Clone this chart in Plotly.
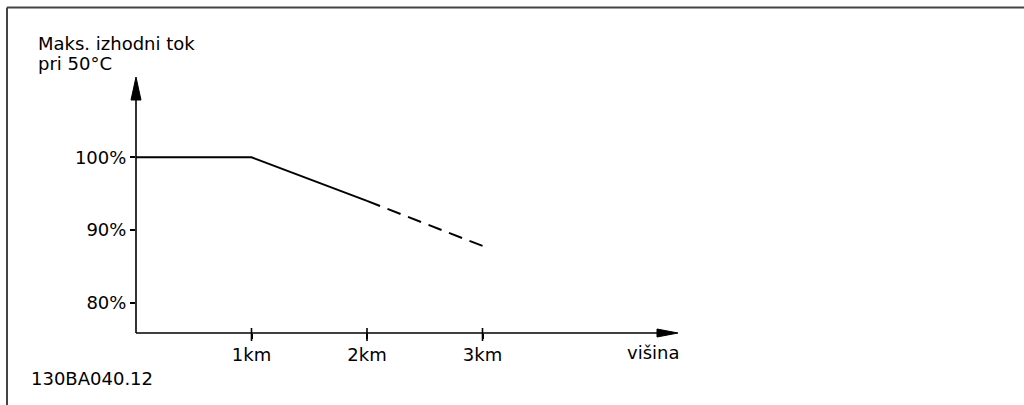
import plotly.graph_objects as go

W, H = 1024, 405

# curve data (altitude in km, max output current in %)
alt_solid = [0, 1, 2]
cur_solid = [100, 100, 94]
alt_dash = [2, 3.05]
cur_dash = [94, 87.5]

y_ticks = [80, 90, 100]
y_labels = ["80%", "90%", "100%"]
x_ticks = [1, 2, 3]
x_labels = ["1km", "2km", "3km"]

# drawing geometry (pixels)
X0, Y0 = 136, 333
PX_KM = 115.5
PX_PCT = 7.27
Y100 = 157.3
FONT = dict(family="DejaVu Sans", size=18, color="black")


def px(x):
    return x / W


def py(y):
    return 1 - y / H


fig = go.Figure()
fig.add_trace(go.Scatter(x=alt_solid, y=cur_solid, mode="lines",
                         line=dict(color="black", width=2), hoverinfo="skip"))
fig.add_trace(go.Scatter(x=alt_dash, y=cur_dash, mode="lines",
                         line=dict(color="black", width=2, dash="14px,8px"), hoverinfo="skip"))

shapes = []
line = dict(color="black", width=1.6)
# axes
shapes.append(dict(type="line", xref="paper", yref="paper", x0=px(X0), x1=px(X0),
                   y0=py(Y0), y1=py(98), line=line))
shapes.append(dict(type="line", xref="paper", yref="paper", x0=px(X0), x1=px(660),
                   y0=py(Y0), y1=py(Y0), line=line))
# arrow heads
shapes.append(dict(type="path", xref="paper", yref="paper",
                   path=f"M {px(X0)} {py(77)} L {px(X0 - 5)} {py(100)} L {px(X0 + 5)} {py(100)} Z",
                   fillcolor="black", line=dict(color="black", width=1)))
shapes.append(dict(type="path", xref="paper", yref="paper",
                   path=f"M {px(678)} {py(Y0)} L {px(657)} {py(Y0 - 4)} L {px(657)} {py(Y0 + 4)} Z",
                   fillcolor="black", line=dict(color="black", width=1)))
# x tick marks cross the axis
for t in x_ticks:
    shapes.append(dict(type="line", xref="x", yref="paper", x0=t, x1=t,
                       y0=py(Y0 - 5), y1=py(Y0 + 8), line=line))
# frame (top and left edges)
frame = dict(color="#444", width=2)
shapes.append(dict(type="line", xref="paper", yref="paper", x0=px(7), x1=1,
                   y0=py(7.5), y1=py(7.5), line=frame))
shapes.append(dict(type="line", xref="paper", yref="paper", x0=px(7), x1=px(7),
                   y0=py(7.5), y1=0, line=frame))

annotations = [
    dict(text="Maks. izhodni tok", x=px(36), y=py(44), xref="paper", yref="paper",
         xanchor="left", yanchor="middle", showarrow=False, font=FONT),
    dict(text="pri 50°C", x=px(36), y=py(64), xref="paper", yref="paper",
         xanchor="left", yanchor="middle", showarrow=False, font=FONT),
    dict(text="višina", x=px(681), y=py(352), xref="paper", yref="paper",
         xanchor="right", yanchor="middle", showarrow=False, font=FONT),
    dict(text="130BA040.12", x=px(29), y=py(378), xref="paper", yref="paper",
         xanchor="left", yanchor="middle", showarrow=False, font=FONT),
]

fig.update_layout(
    width=W, height=H,
    margin=dict(l=0, r=0, t=0, b=0),
    paper_bgcolor="white", plot_bgcolor="rgba(0,0,0,0)",
    showlegend=False,
    font=FONT,
    shapes=shapes,
    annotations=annotations,
    xaxis=dict(domain=[px(X0), 1], range=[0, (W - X0) / PX_KM],
               tickvals=x_ticks, ticktext=x_labels,
               ticks="outside", ticklen=5, tickwidth=1.6, tickcolor="black",
               showgrid=False, zeroline=False, showline=False, fixedrange=True),
    yaxis=dict(domain=[1 - Y0 / H, 1],
               range=[100 - (Y0 - Y100) / PX_PCT, 100 + Y100 / PX_PCT],
               tickvals=y_ticks, ticktext=y_labels,
               ticks="outside", ticklen=5, tickwidth=1.6, tickcolor="black",
               showgrid=False, zeroline=False, showline=False, fixedrange=True),
)

fig.write_html("out.html", config={"displayModeBar": False},
               post_script="document.body.style.margin='0';")
